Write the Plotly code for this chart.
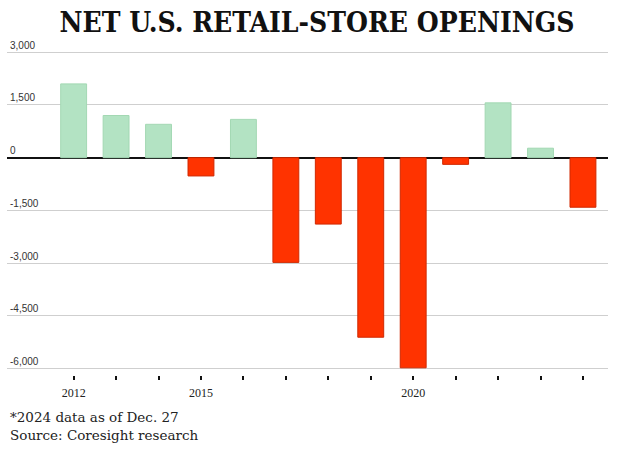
import plotly.graph_objects as go

years = [2012, 2013, 2014, 2015, 2016, 2017, 2018, 2019, 2020, 2021, 2022, 2023, 2024]
net_openings = [2100, 1200, 950, -520, 1090, -2980, -1890, -5110, -5980, -190, 1560, 270, -1410]
year_labels = ["2012", "", "", "2015", "", "", "", "", "2020", "", "", "", ""]
y_ticks = [-6000, -4500, -3000, -1500, 0, 1500, 3000]
y_tick_labels = ["-6,000", "-4,500", "-3,000", "-1,500", "0", "1,500", "3,000"]

GREEN, GREEN_EDGE = "#b3e3c3", "#a3d8b3"
RED, RED_EDGE = "#ff3300", "#d02800"

fills = [GREEN if v >= 0 else RED for v in net_openings]
edges = [GREEN_EDGE if v >= 0 else RED_EDGE for v in net_openings]

fig = go.Figure(go.Bar(
    x=years, y=net_openings, width=0.61,
    marker=dict(color=fills, line=dict(color=edges, width=1)),
    hoverinfo="skip",
))

PLOT_H = 451 - 38 - 75.5

fig.update_layout(
    width=634, height=451,
    margin=dict(l=7, r=26, t=38, b=75.5),
    paper_bgcolor="white", plot_bgcolor="white",
    showlegend=False,
    title=dict(text="NET U.S. RETAIL-STORE OPENINGS", x=0.5, xanchor="center",
               y=1 - 22 / 451, yanchor="middle",
               font=dict(family="DejaVu Serif Condensed", size=28, color="#111", weight=900)),
    xaxis=dict(range=[2010.43, 2024.59], tickvals=years, ticktext=year_labels,
               ticks="outside", ticklen=4, tickwidth=1.5, tickcolor="#111",
               showgrid=False, showline=False, zeroline=False,
               ticklabelstandoff=3,
               tickfont=dict(family="Liberation Serif", size=12, color="#222")),
    yaxis=dict(range=[-6185, 3406], tickvals=y_ticks, ticktext=y_tick_labels,
               showgrid=True, gridcolor="#cfcfcf", gridwidth=1,
               zeroline=True, zerolinecolor="#111", zerolinewidth=1.6,
               showline=False, ticks="",
               ticklabelposition="inside", ticklabelshift=-7, ticklabelstandoff=0,
               tickfont=dict(family="Liberation Sans", size=10, color="#333")),
    annotations=[
        dict(text="*2024 data as of Dec. 27", xref="paper", yref="paper",
             x=1 / 601, y=(451 - 75.5 - 418) / PLOT_H, xanchor="left", yanchor="middle",
             showarrow=False, font=dict(family="DejaVu Serif", size=13.5, color="#222")),
        dict(text="Source: Coresight research", xref="paper", yref="paper",
             x=1 / 601, y=(451 - 75.5 - 436) / PLOT_H, xanchor="left", yanchor="middle",
             showarrow=False, font=dict(family="DejaVu Serif", size=13.5, color="#222")),
    ],
)

fig.write_html("out.html")
